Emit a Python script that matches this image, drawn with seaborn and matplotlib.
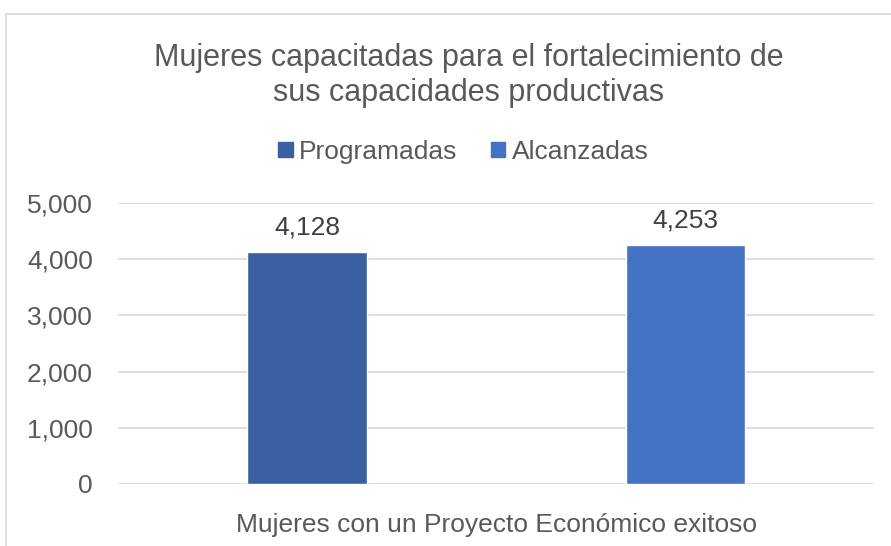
import matplotlib.pyplot as plt
import matplotlib.ticker as mticker
import pandas as pd
import seaborn as sns

# data
series = ["Programadas", "Alcanzadas"]
values = [4128, 4253]
category = "Mujeres con un Proyecto Económico exitoso"
colors = ["#3A5FA3", "#4472C4"]

df = pd.DataFrame({"serie": series, "valor": values})

sns.set_style("white")
plt.rcParams["font.family"] = ["Liberation Sans", "DejaVu Sans"]
grey = "#595959"

fig = plt.figure(figsize=(8.91, 5.46), dpi=100)
ax = fig.add_axes([0.1324, 0.1136, 0.8486, 0.5146])

sns.barplot(data=df, x="serie", y="valor", hue="serie", palette=colors,
            width=0.315, dodge=False, legend=False, saturation=1, ax=ax)

ax.set_ylim(0, 5000)
ax.set_xlim(-0.5, 1.5)
ax.yaxis.set_major_locator(mticker.MultipleLocator(1000))
ax.yaxis.set_major_formatter(mticker.FuncFormatter(lambda v, p: f"{int(v):,}"))
ax.grid(axis="y", color="#D9D9D9", linewidth=1.2)
ax.set_axisbelow(True)
for s in ax.spines.values():
    s.set_visible(False)
ax.tick_params(axis="y", labelsize=19, labelcolor=grey, length=0, pad=18)
ax.set_xticks([])
ax.set_ylabel("")
ax.set_xlabel(category, fontsize=19, color=grey)
ax.xaxis.set_label_coords(0.5, -0.105)

for c in ax.containers:
    ax.bar_label(c, labels=[f"{v:,.0f}" for v in c.datavalues],
                 fontsize=19, color="#404040", padding=9)

# legend with square markers
handles = [plt.Rectangle((0, 0), 1, 1, color=col) for col in colors]
fig.legend(handles, series, loc="center", bbox_to_anchor=(0.52, 0.722),
           ncol=2, frameon=False, fontsize=19, labelcolor=grey,
           handlelength=0.55, handleheight=0.55, handletextpad=0.25,
           columnspacing=1.25)

fig.text(0.526, 0.862, "Mujeres capacitadas para el fortalecimiento de\nsus capacidades productivas",
         ha="center", va="center", fontsize=22, color=grey, linespacing=1.2)

# chart area border (runs off the right/bottom edges)
fig.patches.append(plt.Rectangle((6 / 891, -0.1), 1.2, 1.1 - 14 / 546,
                                 transform=fig.transFigure, fill=False,
                                 edgecolor="#D9D9D9", linewidth=1.2))

fig.savefig("out.png", dpi=100)
